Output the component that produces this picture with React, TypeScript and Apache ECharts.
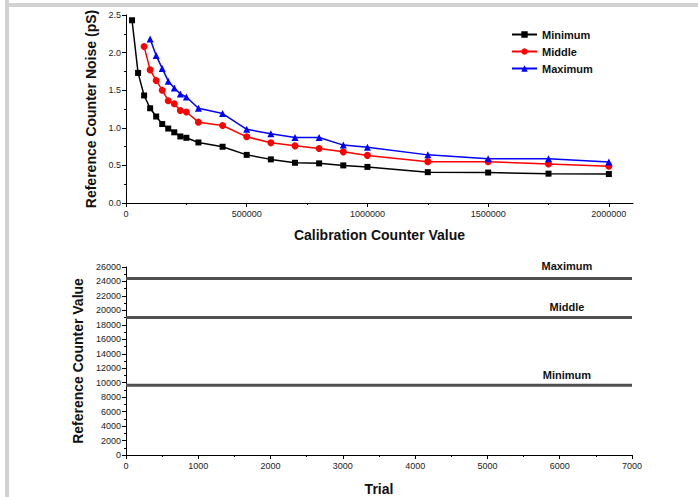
import React, { useEffect, useRef } from "react";
import * as echarts from "echarts";

// ---------- Top panel data ----------
const minX = [25000, 50000, 75000, 100000, 125000, 150000, 175000, 200000, 225000, 250000, 300000, 400000, 500000, 600000, 700000, 800000, 900000, 1000000, 1250000, 1500000, 1750000, 2000000];
const minY = [2.43, 1.73, 1.43, 1.26, 1.15, 1.05, 0.99, 0.94, 0.885, 0.867, 0.805, 0.748, 0.64, 0.58, 0.535, 0.527, 0.5, 0.48, 0.41, 0.405, 0.39, 0.385];

const midX = [75000, 100000, 125000, 150000, 175000, 200000, 225000, 250000, 300000, 400000, 500000, 600000, 700000, 800000, 900000, 1000000, 1250000, 1500000, 1750000, 2000000];
const midY = [2.08, 1.77, 1.63, 1.5, 1.36, 1.32, 1.23, 1.21, 1.075, 1.03, 0.88, 0.8, 0.76, 0.725, 0.68, 0.633, 0.55, 0.55, 0.52, 0.49];

const maxX = [100000, 125000, 150000, 175000, 200000, 225000, 250000, 300000, 400000, 500000, 600000, 700000, 800000, 900000, 1000000, 1250000, 1500000, 1750000, 2000000];
const maxY = [2.18, 1.96, 1.79, 1.62, 1.53, 1.45, 1.41, 1.26, 1.19, 0.98, 0.92, 0.87, 0.87, 0.77, 0.74, 0.64, 0.59, 0.59, 0.545];

const topXMajor = [0, 500000, 1000000, 1500000, 2000000];
const topXMinor = [250000, 750000, 1250000, 1750000];

// ---------- Bottom panel data ----------
const trialRange = [0, 7000];
const bandNames = ["Maximum", "Middle", "Minimum"];
const bandValues = [24400, 19000, 9650];
const bandLabelX = 6100;

const pair = (xs: number[], ys: number[]) => xs.map((x, i) => [x, ys[i]]);

export default function App() {
  const ref = useRef<HTMLDivElement>(null);

  useEffect(() => {
    if (!ref.current) return;
    const chart = echarts.init(ref.current, undefined, { renderer: "svg" });
    const font = "Liberation Sans, Arial, sans-serif";
    const tickLabel = { fontSize: 9, color: "#222", fontFamily: font, formatter: (v: number) => String(v) };
    const axisName = { fontSize: 14, fontWeight: "bold" as const, color: "#111", fontFamily: font };
    const axisLine = { show: true, lineStyle: { color: "#000", width: 1 } };
    const labelOffsets = [-13, -11, -10];

    const bandSeries = bandValues.map((v, i) => ({
      name: "band-" + bandNames[i],
      type: "line",
      xAxisIndex: 2,
      yAxisIndex: 1,
      data: [
        [trialRange[0], v],
        [trialRange[1], v],
      ],
      symbol: "none",
      lineStyle: { color: "#505050", width: 3 },
      silent: true,
      markPoint: {
        symbol: "circle",
        symbolSize: 0,
        data: [{ coord: [bandLabelX, v] }],
        label: {
          show: true,
          position: "inside",
          offset: [0, labelOffsets[i]],
          formatter: bandNames[i],
          fontSize: 11,
          fontWeight: "bold",
          color: "#111",
          fontFamily: font,
        },
      },
    }));

    chart.setOption({
      animation: false,
      backgroundColor: "#fff",
      textStyle: { fontFamily: font },
      graphic: [
        { type: "rect", shape: { x: 5, y: 0, width: 4, height: 497 }, style: { fill: "#d2d2d2" }, silent: true },
        { type: "rect", shape: { x: 5, y: 3, width: 693, height: 4 }, style: { fill: "#d2d2d2" }, silent: true },
      ],
      legend: {
        orient: "vertical",
        left: 511,
        top: 29,
        padding: 0,
        itemWidth: 25,
        itemHeight: 8,
        itemGap: 6,
        data: ["Minimum", "Middle", "Maximum"],
        textStyle: { fontSize: 11, fontWeight: "bold", color: "#111", fontFamily: font },
      },
      grid: [
        { left: 126, top: 15, width: 507, height: 188 },
        { left: 126, top: 267, width: 506, height: 189 },
      ],
      xAxis: [
        {
          type: "value",
          gridIndex: 0,
          position: "bottom",
          min: 0,
          max: 2100000,
          interval: 500000,
          name: "Calibration Counter Value",
          nameLocation: "middle",
          nameGap: 25,
          nameTextStyle: axisName,
          axisLine,
          axisTick: { show: true, length: 4, customValues: topXMajor, lineStyle: { color: "#000" } },
          axisLabel: { ...tickLabel, customValues: topXMajor, margin: 6 },
          splitLine: { show: false },
        },
        {
          type: "value",
          gridIndex: 0,
          position: "bottom",
          offset: 0,
          min: 0,
          max: 2100000,
          interval: 500000,
          axisLine: { show: false },
          axisTick: { show: true, length: 2, customValues: topXMinor, lineStyle: { color: "#000" } },
          axisLabel: { show: false },
          splitLine: { show: false },
        },
        {
          type: "value",
          gridIndex: 1,
          position: "bottom",
          min: 0,
          max: 7000,
          interval: 1000,
          name: "Trial",
          nameLocation: "middle",
          nameGap: 27,
          nameTextStyle: axisName,
          axisLine,
          axisTick: { show: true, length: 4, lineStyle: { color: "#000" } },
          minorTick: { show: true, splitNumber: 2, length: 2, lineStyle: { color: "#000" } },
          axisLabel: { ...tickLabel, margin: 6 },
          splitLine: { show: false },
        },
      ],
      yAxis: [
        {
          type: "value",
          gridIndex: 0,
          min: 0,
          max: 2.5,
          interval: 0.5,
          name: "Reference Counter Noise (pS)",
          nameLocation: "middle",
          nameGap: 28,
          nameTextStyle: axisName,
          axisLine,
          axisTick: { show: true, length: 4, lineStyle: { color: "#000" } },
          minorTick: { show: true, splitNumber: 2, length: 2, lineStyle: { color: "#000" } },
          axisLabel: { ...tickLabel, margin: 5, formatter: (v: number) => v.toFixed(1) },
          splitLine: { show: false },
        },
        {
          type: "value",
          gridIndex: 1,
          min: 0,
          max: 26000,
          interval: 2000,
          name: "Reference Counter Value",
          nameLocation: "middle",
          nameGap: 40,
          nameTextStyle: axisName,
          axisLine,
          axisTick: { show: true, length: 4, lineStyle: { color: "#000" } },
          minorTick: { show: true, splitNumber: 2, length: 2, lineStyle: { color: "#000" } },
          axisLabel: { ...tickLabel, margin: 5 },
          splitLine: { show: false },
        },
      ],
      series: [
        {
          name: "Minimum",
          type: "line",
          xAxisIndex: 0,
          yAxisIndex: 0,
          data: pair(minX, minY),
          symbol: "rect",
          symbolSize: 6,
          color: "#000000",
          lineStyle: { color: "#000000", width: 1.5 },
          itemStyle: { color: "#000000" },
        },
        {
          name: "Middle",
          type: "line",
          xAxisIndex: 0,
          yAxisIndex: 0,
          data: pair(midX, midY),
          symbol: "circle",
          symbolSize: 7,
          color: "#ff0000",
          lineStyle: { color: "#ff0000", width: 1.5 },
          itemStyle: { color: "#ff0000" },
        },
        {
          name: "Maximum",
          type: "line",
          xAxisIndex: 0,
          yAxisIndex: 0,
          data: pair(maxX, maxY),
          symbol: "triangle",
          symbolSize: 7,
          color: "#0000ff",
          lineStyle: { color: "#0000ff", width: 1.5 },
          itemStyle: { color: "#0000ff" },
        },
        ...bandSeries,
      ],
    });

    return () => chart.dispose();
  }, []);

  return (
    <div
      ref={ref}
      style={{ position: "absolute", left: 0, top: 0, width: 698, height: 497 }}
    />
  );
}
